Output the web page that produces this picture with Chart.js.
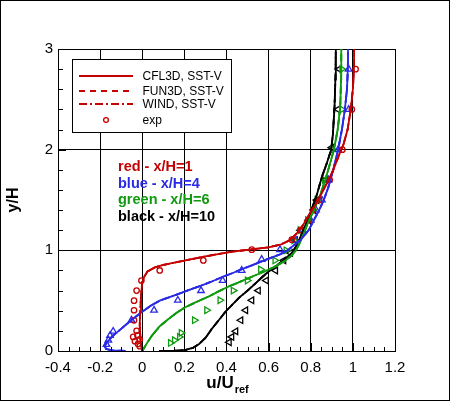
<!DOCTYPE html>
<html>
<head>
<meta charset="utf-8">
<script src="https://cdn.jsdelivr.net/npm/chart.js@4/dist/chart.umd.min.js"></script>
<style>
  html, body { margin: 0; padding: 0; background: #fff; }
  #wrap { width: 450px; height: 401px; }
</style>
</head>
<body>
<div id="wrap"><canvas id="chart" width="450" height="401"></canvas></div>
<script>
// axis ticks
const xTickValues = [-0.4, -0.2, 0, 0.2, 0.4, 0.6, 0.8, 1, 1.2];
const xTickLabels = ['-0.4', '-0.2', '0', '0.2', '0.4', '0.6', '0.8', '1', '1.2'];
const yTickValues = [0, 1, 2, 3];
const yTickLabels = ['0', '1', '2', '3'];

// CFD profiles (same for CFL3D / FUN3D / WIND, they overlap)
const redLineX = [0.0, -0.008, -0.012, -0.01, -0.006, 0.0, 0.01, 0.025, 0.06, 0.1, 0.17, 0.3, 0.42, 0.5, 0.6, 0.66, 0.7, 0.73, 0.76, 0.797, 0.83, 0.86, 0.885, 0.907, 0.935, 0.955, 0.975, 0.99, 1.0, 1.005, 1.006];
const redLineY = [0, 0.1, 0.25, 0.4, 0.55, 0.68, 0.74, 0.79, 0.83, 0.855, 0.885, 0.94, 0.985, 1.005, 1.03, 1.06, 1.1, 1.16, 1.24, 1.37, 1.48, 1.6, 1.7, 1.8, 1.95, 2.05, 2.2, 2.4, 2.6, 2.8, 3.0];

const blueLineX = [-0.08, -0.14, -0.172, -0.178, -0.17, -0.14, -0.106, -0.05, 0.0, 0.04, 0.083, 0.13, 0.17, 0.22, 0.28, 0.33, 0.38, 0.43, 0.47, 0.52, 0.567, 0.61, 0.654, 0.69, 0.72, 0.75, 0.79, 0.815, 0.84, 0.862, 0.884, 0.9, 0.915, 0.93, 0.948, 0.962, 0.972, 0.976, 0.977];
const blueLineY = [0, 0.005, 0.02, 0.05, 0.08, 0.15, 0.21, 0.31, 0.39, 0.45, 0.5, 0.535, 0.565, 0.605, 0.65, 0.69, 0.735, 0.775, 0.81, 0.85, 0.89, 0.925, 0.96, 1.0, 1.05, 1.1, 1.2, 1.3, 1.4, 1.5, 1.63, 1.75, 1.87, 2.0, 2.2, 2.4, 2.6, 2.8, 3.0];

const greenLineX = [0.0, 0.02, 0.045, 0.083, 0.12, 0.16, 0.2, 0.25, 0.318, 0.36, 0.413, 0.45, 0.49, 0.54, 0.59, 0.633, 0.68, 0.71, 0.727, 0.745, 0.765, 0.79, 0.815, 0.84, 0.869, 0.89, 0.91, 0.928, 0.94, 0.944, 0.945];
const greenLineY = [0, 0.07, 0.15, 0.246, 0.31, 0.375, 0.43, 0.48, 0.544, 0.59, 0.643, 0.675, 0.71, 0.755, 0.8, 0.84, 0.9, 0.95, 0.99, 1.06, 1.16, 1.29, 1.4, 1.52, 1.7, 1.85, 2.0, 2.2, 2.43, 2.7, 3.0];

const blackLineX = [0.08, 0.15, 0.2, 0.24, 0.27, 0.3, 0.334, 0.365, 0.397, 0.43, 0.46, 0.5, 0.539, 0.57, 0.6, 0.635, 0.664, 0.69, 0.711, 0.725, 0.745, 0.765, 0.79, 0.81, 0.83, 0.853, 0.877, 0.897, 0.905, 0.913, 0.917, 0.919];
const blackLineY = [0, 0.002, 0.008, 0.03, 0.07, 0.13, 0.23, 0.31, 0.395, 0.465, 0.53, 0.6, 0.675, 0.735, 0.79, 0.845, 0.89, 0.935, 0.975, 1.02, 1.1, 1.2, 1.32, 1.44, 1.56, 1.73, 1.87, 2.0, 2.15, 2.43, 2.7, 3.0];

// experiment
const redExpX = [-0.012, -0.02, -0.035, -0.012, -0.043, -0.023, -0.027, -0.039, -0.039, -0.039, -0.027, -0.004, 0.083, 0.29, 0.52, 0.71, 0.75, 0.79, 0.81, 0.84, 0.89, 0.95, 0.995, 1.013];
const redExpY = [0.048, 0.07, 0.097, 0.115, 0.14, 0.155, 0.2, 0.305, 0.405, 0.5, 0.6, 0.7, 0.8, 0.9, 1.007, 1.106, 1.2, 1.3, 1.4, 1.5, 1.7, 2.0, 2.4, 2.8];

const blueExpX = [-0.17, -0.161, -0.153, -0.138, -0.051, 0.056, 0.169, 0.279, 0.382, 0.472, 0.567, 0.654, 0.73, 0.76, 0.8, 0.825, 0.853, 0.885, 0.93, 0.98, 0.98];
const blueExpY = [0.065, 0.107, 0.154, 0.196, 0.306, 0.405, 0.504, 0.6, 0.7, 0.8, 0.91, 1.007, 1.1, 1.2, 1.3, 1.4, 1.5, 1.7, 2.0, 2.4, 2.8];

const greenExpX = [0.134, 0.153, 0.177, 0.185, 0.248, 0.306, 0.369, 0.432, 0.499, 0.562, 0.63, 0.683, 0.72, 0.75, 0.785, 0.81, 0.83, 0.865, 0.905, 0.948, 0.948];
const greenExpY = [0.08, 0.107, 0.14, 0.18, 0.306, 0.405, 0.504, 0.6, 0.7, 0.81, 0.9, 1.0, 1.1, 1.2, 1.3, 1.4, 1.5, 1.7, 2.0, 2.4, 2.8];

const blackExpX = [0.413, 0.425, 0.444, 0.468, 0.491, 0.52, 0.551, 0.589, 0.633, 0.672, 0.704, 0.727, 0.751, 0.79, 0.814, 0.829, 0.869, 0.9, 0.929, 0.935];
const blackExpY = [0.087, 0.14, 0.196, 0.306, 0.405, 0.504, 0.6, 0.7, 0.8, 0.9, 0.974, 1.1, 1.2, 1.3, 1.4, 1.5, 1.7, 2.02, 2.4, 2.8];

const legendLabels = ['CFL3D, SST-V', 'FUN3D, SST-V', 'WIND, SST-V', 'exp'];
const noteLabels = ['red - x/H=1', 'blue - x/H=4', 'green - x/H=6', 'black - x/H=10'];

const RED = '#c40000';
const BLUE = '#2a2ae6';
const GREEN = '#0f9a0f';
const BLACK = '#000000';
const noteColors = [RED, BLUE, GREEN, BLACK];
const FONT = '"Liberation Sans", Arial, Helvetica, sans-serif';

const pts = (xs, ys) => xs.map((x, i) => ({ x: x, y: ys[i] }));

const codeStyles = [[], [6, 5], [8, 3, 2, 3]];

function lineSets(xs, ys, color) {
  return codeStyles.map(dash => ({
    data: pts(xs, ys),
    showLine: true,
    borderColor: color,
    borderWidth: 1.8,
    borderDash: dash,
    pointRadius: 0,
    tension: 0
  }));
}

function expSet(xs, ys, color, style, rotation, radius) {
  return {
    data: pts(xs, ys),
    showLine: false,
    pointStyle: style,
    rotation: rotation,
    pointRadius: radius,
    pointBorderColor: color,
    pointBackgroundColor: 'rgba(0,0,0,0)',
    pointBorderWidth: 1.3
  };
}

const datasets = [
  ...lineSets(redLineX, redLineY, RED),
  ...lineSets(blueLineX, blueLineY, BLUE),
  ...lineSets(greenLineX, greenLineY, GREEN),
  ...lineSets(blackLineX, blackLineY, BLACK),
  expSet(redExpX, redExpY, RED, 'circle', 0, 2.7),
  expSet(blueExpX, blueExpY, BLUE, 'triangle', 0, 3.8),
  expSet(greenExpX, greenExpY, GREEN, 'triangle', 90, 3.8),
  expSet(blackExpX, blackExpY, BLACK, 'triangle', 270, 3.8)
];

const decor = {
  id: 'decor',
  afterDraw(chart) {
    const ctx = chart.ctx;
    const xs = chart.scales.x, ys = chart.scales.y;
    const a = chart.chartArea;
    ctx.save();

    // minor ticks
    ctx.strokeStyle = '#000';
    ctx.lineWidth = 1;
    ctx.beginPath();
    for (let v = -0.4; v <= 1.2001; v += 0.05) {
      const px = Math.round(xs.getPixelForValue(v)) + 0.5;
      const major = Math.abs(v * 5 - Math.round(v * 5)) < 1e-6;
      ctx.moveTo(px, a.bottom);
      ctx.lineTo(px, a.bottom - (major ? 8 : 4));
    }
    for (let v = 0; v <= 3.0001; v += 0.2) {
      const py = Math.round(ys.getPixelForValue(v)) + 0.5;
      const major = Math.abs(v - Math.round(v)) < 1e-6;
      ctx.moveTo(a.left, py);
      ctx.lineTo(a.left + (major ? 8 : 5), py);
    }
    ctx.stroke();

    // x axis title with subscript
    ctx.fillStyle = '#000';
    ctx.textBaseline = 'alphabetic';
    ctx.textAlign = 'left';
    ctx.font = 'bold 17px ' + FONT;
    const main = 'u/U';
    const wMain = ctx.measureText(main).width;
    ctx.font = 'bold 11px ' + FONT;
    const wSub = ctx.measureText('ref').width;
    const x0 = 227 - (wMain + wSub) / 2;
    ctx.font = 'bold 17px ' + FONT;
    ctx.fillText(main, x0, 388);
    ctx.font = 'bold 11px ' + FONT;
    ctx.fillText('ref', x0 + wMain + 1, 393);

    // legend box
    const bx = 72.5, by = 59.5, bw = 159, bh = 73;
    ctx.fillStyle = '#fff';
    ctx.fillRect(bx, by, bw, bh);
    ctx.strokeStyle = '#000';
    ctx.lineWidth = 1;
    ctx.strokeRect(bx, by, bw, bh);
    const rows = [76, 91, 104, 120];
    ctx.strokeStyle = RED;
    ctx.lineWidth = 1.8;
    codeStyles.forEach((dash, i) => {
      ctx.setLineDash(dash);
      ctx.beginPath();
      ctx.moveTo(79, rows[i]);
      ctx.lineTo(133, rows[i]);
      ctx.stroke();
    });
    ctx.setLineDash([]);
    ctx.lineWidth = 1.3;
    ctx.beginPath();
    ctx.arc(106, rows[3], 2.4, 0, Math.PI * 2);
    ctx.stroke();
    ctx.fillStyle = '#000';
    ctx.font = '12px ' + FONT;
    ctx.textBaseline = 'middle';
    legendLabels.forEach((t, i) => ctx.fillText(t, 142.5, rows[i] + 1));

    // annotations
    ctx.font = 'bold 14.5px ' + FONT;
    ctx.textBaseline = 'alphabetic';
    noteLabels.forEach((t, i) => {
      ctx.fillStyle = noteColors[i];
      ctx.fillText(t, 118, 171 + i * 16.7);
    });

    // outer frame
    ctx.strokeStyle = '#000';
    ctx.lineWidth = 1;
    ctx.strokeRect(0.5, 0.5, chart.width - 1, chart.height - 1);
    ctx.restore();
  }
};

new Chart(document.getElementById('chart'), {
  type: 'scatter',
  data: { datasets: datasets },
  plugins: [decor],
  options: {
    responsive: false,
    animation: false,
    devicePixelRatio: 1,
    layout: { padding: { left: 0, right: 55, top: 49, bottom: 0 } },
    plugins: { legend: { display: false }, tooltip: { enabled: false } },
    scales: {
      x: {
        type: 'linear',
        min: -0.4,
        max: 1.2,
        afterBuildTicks: s => { s.ticks = xTickValues.map(v => ({ value: v })); },
        afterFit: s => { s.height = 50; },
        ticks: {
          callback: (v, i) => xTickLabels[i],
          color: '#000',
          font: { family: FONT, size: 15 },
          padding: 8,
          maxRotation: 0
        },
        grid: { color: '#000', lineWidth: 1, drawTicks: false },
        border: { color: '#000', width: 1 }
      },
      y: {
        type: 'linear',
        min: 0,
        max: 3,
        afterBuildTicks: s => { s.ticks = yTickValues.map(v => ({ value: v })); },
        afterFit: s => { s.width = 58; },
        ticks: {
          callback: (v, i) => yTickLabels[i],
          color: '#000',
          font: { family: FONT, size: 15 },
          padding: 5
        },
        grid: { color: '#000', lineWidth: 1, drawTicks: false },
        border: { color: '#000', width: 1 },
        title: {
          display: true,
          text: 'y/H',
          color: '#000',
          font: { family: FONT, size: 16, weight: 'bold' },
          padding: { top: 4, bottom: 0 }
        }
      }
    }
  }
});
</script>
</body>
</html>
